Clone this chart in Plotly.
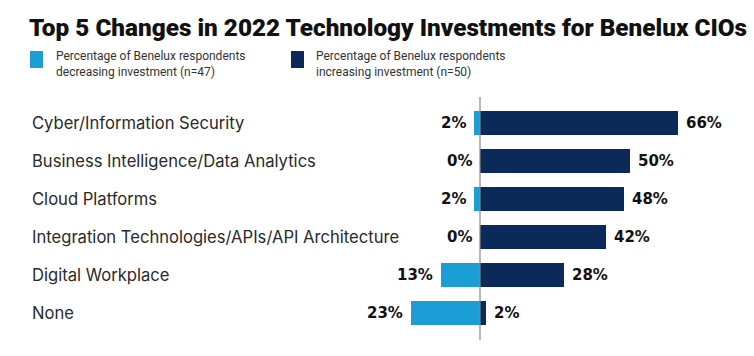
import plotly.graph_objects as go

categories = ["Cyber/Information Security", "Business Intelligence/Data Analytics",
              "Cloud Platforms", "Integration Technologies/APIs/API Architecture",
              "Digital Workplace", "None"]
decreasing = [2, 0, 2, 0, 13, 23]
increasing = [66, 50, 48, 42, 28, 2]

title = "Top 5 Changes in 2022 Technology Investments for Benelux CIOs"
legend_dec = "Percentage of Benelux respondents<br>decreasing investment (n=47)"
legend_inc = "Percentage of Benelux respondents<br>increasing investment (n=50)"

LIGHT = "#1b9dd6"
DARK = "#0b2a59"
W, H = 754, 356
VAL_FONT = dict(family="DejaVu Sans", size=15, color="#111")

fig = go.Figure()
fig.add_trace(go.Bar(y=categories, x=[-v for v in decreasing], orientation="h",
                     marker=dict(color=LIGHT, line_width=0), width=0.63, showlegend=False,
                     hoverinfo="skip"))
fig.add_trace(go.Bar(y=categories, x=increasing, orientation="h",
                     marker=dict(color=DARK, line_width=0), width=0.63, showlegend=False,
                     hoverinfo="skip"))

ann = []
for c, d, i in zip(categories, decreasing, increasing):
    ann.append(dict(x=-d, y=c, xref="x", yref="y", text=f"<b>{d}%</b>", showarrow=False,
                    xanchor="right", xshift=-6, font=VAL_FONT))
    ann.append(dict(x=i, y=c, xref="x", yref="y", text=f"<b>{i}%</b>", showarrow=False,
                    xanchor="left", xshift=6, font=VAL_FONT))
    ann.append(dict(x=30 / W, y=c, xref="paper", yref="y", text=c, showarrow=False,
                    xanchor="left", font=dict(family="Inter", size=16.6, color="#2a2a2a")))

ann.append(dict(x=27 / W, y=1 - 27 / H, xref="paper", yref="paper", text=title,
                showarrow=False, xanchor="left", yanchor="middle",
                font=dict(family="Roboto", size=24.3, color="#111", weight=900)))
ann.append(dict(x=54 / W, y=1 - 64 / H, xref="paper", yref="paper", text=legend_dec,
                showarrow=False, xanchor="left", yanchor="middle", align="left",
                font=dict(family="Roboto", size=12, color="#333")))
ann.append(dict(x=314 / W, y=1 - 64 / H, xref="paper", yref="paper", text=legend_inc,
                showarrow=False, xanchor="left", yanchor="middle", align="left",
                font=dict(family="Roboto", size=12, color="#333")))

shapes = [
    dict(type="rect", xref="paper", yref="paper", x0=30 / W, x1=43 / W,
         y0=1 - 68 / H, y1=1 - 51 / H, fillcolor=LIGHT, line_width=0),
    dict(type="rect", xref="paper", yref="paper", x0=291 / W, x1=304 / W,
         y0=1 - 68 / H, y1=1 - 51 / H, fillcolor=DARK, line_width=0),
    dict(type="line", xref="x", yref="paper", x0=0, x1=0, y0=1 - 340 / H, y1=1 - 97 / H,
         line=dict(color="#888888", width=1.2)),
]

fig.update_layout(
    width=W, height=H, margin=dict(l=0, r=0, t=0, b=0),
    paper_bgcolor="white", plot_bgcolor="white",
    barmode="relative", bargap=0,
    xaxis=dict(range=[-40, 80], domain=[360 / W, 720 / W], visible=False, fixedrange=True),
    yaxis=dict(categoryorder="array", categoryarray=categories, autorange=False,
               range=[5.5, -0.5], domain=[24 / H, 252 / H], visible=False, fixedrange=True),
    annotations=ann, shapes=shapes, showlegend=False,
)
fig.write_html("out.html", config={"displayModeBar": False},
               post_script="document.body.style.margin='0';")
